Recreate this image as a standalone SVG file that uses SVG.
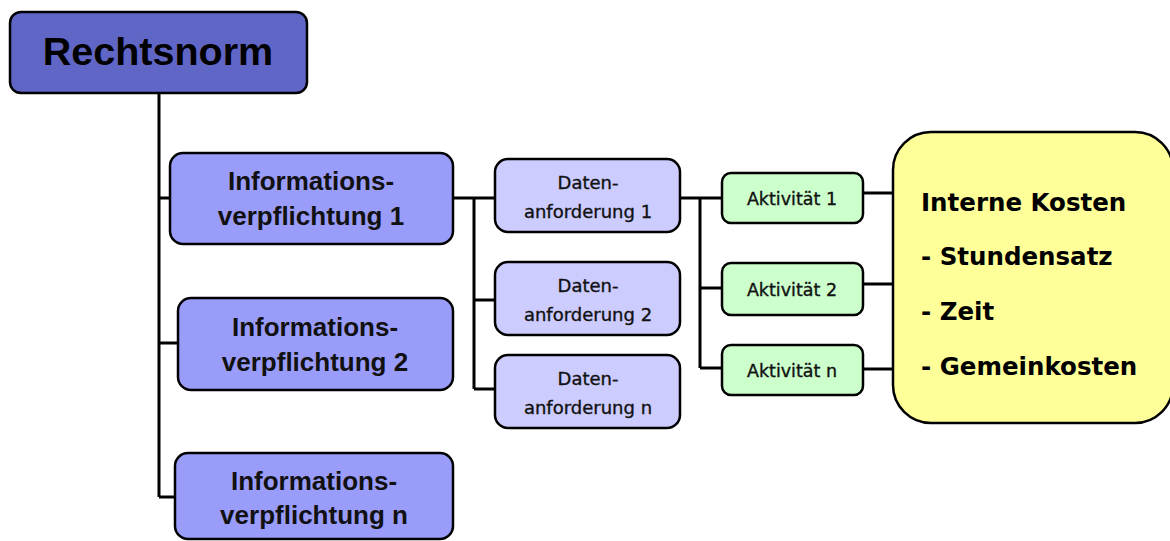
<svg xmlns="http://www.w3.org/2000/svg" width="1170" height="541" viewBox="0 0 1170 541">
  <style>
    .box { stroke: #000; stroke-width: 2.5; }
    .norm { fill: #6066c6; }
    .info { fill: #9a9cfa; }
    .daten { fill: #ccccff; }
    .akt { fill: #ccffcc; }
    .kosten { fill: #ffff99; }
    .wire { fill: none; stroke: #000; stroke-width: 3; }
    .t-norm { font-family: "Liberation Sans", Arial, sans-serif; font-weight: bold; font-size: 39.5px; text-anchor: middle; }
    .t-info { font-family: "Liberation Sans", Arial, sans-serif; font-weight: bold; font-size: 26px; text-anchor: middle; fill: #111; }
    .t-daten { font-family: "DejaVu Sans", Verdana, sans-serif; font-size: 18px; text-anchor: middle; fill: #111; stroke: #111; stroke-width: 0.35; }
    .t-akt { font-family: "DejaVu Sans", Verdana, sans-serif; font-size: 17.5px; text-anchor: middle; fill: #111; stroke: #111; stroke-width: 0.35; }
    .t-kosten { font-family: "DejaVu Sans", Verdana, sans-serif; font-weight: bold; font-size: 24.5px; fill: #000; }
  </style>

  <rect width="1170" height="541" fill="#fff"/>

  <!-- connectors -->
  <g id="connectors">
    <path class="wire" d="M159 93 V497 M159 198 H171 M159 343 H179 M159 497 H176"/>
    <path class="wire" d="M453 198 H496 M474 198 V389 M474 300 H496 M474 389 H496"/>
    <path class="wire" d="M680 198 H723 M700 198 V368 M700 288 H723 M700 368 H723"/>
    <path class="wire" d="M863 193 H894 M863 284 H894 M863 369 H894"/>
  </g>

  <g id="rechtsnorm">
    <rect class="box norm" x="10" y="12" width="297" height="81" rx="11"/>
    <text class="t-norm" x="158" y="65">Rechtsnorm</text>
  </g>

  <g id="info1">
    <rect class="box info" x="170" y="153" width="283" height="91" rx="13"/>
    <text class="t-info" x="311" y="190">Informations-</text>
    <text class="t-info" x="311" y="225">verpflichtung 1</text>
  </g>

  <g id="info2">
    <rect class="box info" x="178" y="298" width="275" height="92" rx="13"/>
    <text class="t-info" x="315" y="336">Informations-</text>
    <text class="t-info" x="315" y="371">verpflichtung 2</text>
  </g>

  <g id="infon">
    <rect class="box info" x="175" y="453" width="278" height="86" rx="13"/>
    <text class="t-info" x="314" y="490">Informations-</text>
    <text class="t-info" x="314" y="524">verpflichtung n</text>
  </g>

  <g id="daten1">
    <rect class="box daten" x="495" y="159" width="185" height="73" rx="13"/>
    <text class="t-daten" x="588" y="189">Daten-</text>
    <text class="t-daten" x="588" y="218">anforderung 1</text>
  </g>

  <g id="daten2">
    <rect class="box daten" x="495" y="262" width="185" height="73" rx="13"/>
    <text class="t-daten" x="588" y="292">Daten-</text>
    <text class="t-daten" x="588" y="321">anforderung 2</text>
  </g>

  <g id="datenn">
    <rect class="box daten" x="495" y="355" width="185" height="73" rx="13"/>
    <text class="t-daten" x="588" y="385">Daten-</text>
    <text class="t-daten" x="588" y="414">anforderung n</text>
  </g>

  <g id="akt1">
    <rect class="box akt" x="722" y="173" width="141" height="50" rx="9"/>
    <text class="t-akt" x="792" y="205">Aktivität 1</text>
  </g>

  <g id="akt2">
    <rect class="box akt" x="722" y="263" width="141" height="52" rx="9"/>
    <text class="t-akt" x="792" y="296">Aktivität 2</text>
  </g>

  <g id="aktn">
    <rect class="box akt" x="722" y="345" width="141" height="50" rx="9"/>
    <text class="t-akt" x="792" y="377">Aktivität n</text>
  </g>

  <g id="kosten">
    <rect class="box kosten" x="893" y="132" width="280" height="291" rx="38"/>
    <text class="t-kosten" x="921" y="211">Interne Kosten</text>
    <text class="t-kosten" x="921" y="265">- Stundensatz</text>
    <text class="t-kosten" x="921" y="320">- Zeit</text>
    <text class="t-kosten" x="921" y="375">- Gemeinkosten</text>
  </g>
</svg>
